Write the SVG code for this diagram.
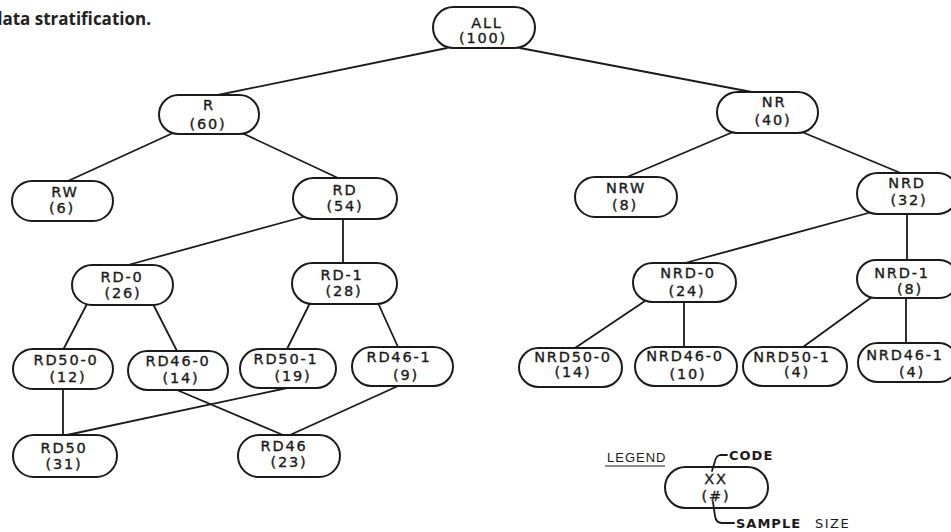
<svg xmlns="http://www.w3.org/2000/svg" width="951" height="532" viewBox="0 0 951 532">
  <style>
    .pill { fill: #fff; stroke: #1a1a1a; stroke-width: 2; }
    .edge { stroke: #1a1a1a; stroke-width: 1.8; fill: none; stroke-linecap: round; }
    .lbl { font-family: "DejaVu Sans", "Liberation Sans", sans-serif; font-size: 14.5px; letter-spacing: 1.8px; fill: #1a1a1a; stroke: #1a1a1a; stroke-width: 0.35; text-anchor: middle; }
    .title { font-family: "Open Sans", "Liberation Sans", sans-serif; font-size: 17px; font-weight: bold; fill: #222; text-anchor: end; }
    .leg { font-family: "DejaVu Sans", "Liberation Sans", sans-serif; font-size: 13px; fill: #1a1a1a; }
  </style>
  <rect width="951" height="532" fill="#fff"/>

  <text class="title" x="151" y="25">data stratification.</text>

  <!-- connectors -->
  <g id="connectors">
    <line class="edge" x1="447" y1="48" x2="218" y2="95"/>
    <line class="edge" x1="520" y1="48" x2="757" y2="93"/>
    <line class="edge" x1="173" y1="133" x2="68" y2="181"/>
    <line class="edge" x1="242" y1="133" x2="338" y2="178"/>
    <line class="edge" x1="733" y1="132" x2="627" y2="177"/>
    <line class="edge" x1="802" y1="132" x2="903" y2="174"/>
    <line class="edge" x1="303" y1="217" x2="128" y2="265"/>
    <line class="edge" x1="343" y1="219" x2="343" y2="263"/>
    <line class="edge" x1="872" y1="212" x2="685" y2="263"/>
    <line class="edge" x1="907" y1="213" x2="907" y2="260"/>
    <line class="edge" x1="87" y1="304" x2="63" y2="350"/>
    <line class="edge" x1="153" y1="304" x2="177" y2="351"/>
    <line class="edge" x1="310" y1="303" x2="287" y2="349"/>
    <line class="edge" x1="378" y1="303" x2="398" y2="347"/>
    <line class="edge" x1="645" y1="301" x2="575" y2="348"/>
    <line class="edge" x1="684" y1="302" x2="684" y2="347"/>
    <line class="edge" x1="872" y1="297" x2="803" y2="347"/>
    <line class="edge" x1="906" y1="298" x2="906" y2="343"/>
    <line class="edge" x1="63" y1="388" x2="63" y2="435"/>
    <line class="edge" x1="287" y1="388" x2="67" y2="435"/>
    <line class="edge" x1="177" y1="390" x2="283" y2="435"/>
    <line class="edge" x1="398" y1="386" x2="290" y2="435"/>
  </g>

  <!-- nodes -->
  <g id="n-all">
    <rect class="pill" x="433" y="7" width="102" height="41" rx="20.5"/>
    <text class="lbl" x="487" y="28">ALL</text>
    <text class="lbl" x="483" y="43">(100)</text>
  </g>
  <g id="n-r">
    <rect class="pill" x="159" y="95" width="100" height="39" rx="19.5"/>
    <text class="lbl" x="209" y="110">R</text>
    <text class="lbl" x="208" y="129">(60)</text>
  </g>
  <g id="n-nr">
    <rect class="pill" x="717" y="92" width="101" height="41" rx="20.5"/>
    <text class="lbl" x="774" y="107">NR</text>
    <text class="lbl" x="773" y="125">(40)</text>
  </g>
  <g id="n-rw">
    <rect class="pill" x="12" y="181" width="101" height="40" rx="20"/>
    <text class="lbl" x="65" y="197">RW</text>
    <text class="lbl" x="62" y="213">(6)</text>
  </g>
  <g id="n-rd">
    <rect class="pill" x="293" y="178" width="104" height="41" rx="20.5"/>
    <text class="lbl" x="345" y="195">RD</text>
    <text class="lbl" x="345" y="211">(54)</text>
  </g>
  <g id="n-nrw">
    <rect class="pill" x="575" y="177" width="102" height="40" rx="20"/>
    <text class="lbl" x="626" y="193">NRW</text>
    <text class="lbl" x="625" y="210">(8)</text>
  </g>
  <g id="n-nrd">
    <rect class="pill" x="857" y="173" width="101" height="41" rx="20.5"/>
    <text class="lbl" x="907" y="188">NRD</text>
    <text class="lbl" x="909" y="205">(32)</text>
  </g>
  <g id="n-rd-0">
    <rect class="pill" x="72" y="265" width="101" height="40" rx="20"/>
    <text class="lbl" x="122" y="282">RD-0</text>
    <text class="lbl" x="123" y="298">(26)</text>
  </g>
  <g id="n-rd-1">
    <rect class="pill" x="292" y="263" width="105" height="41" rx="20.5"/>
    <text class="lbl" x="342" y="280">RD-1</text>
    <text class="lbl" x="344" y="296">(28)</text>
  </g>
  <g id="n-nrd-0">
    <rect class="pill" x="633" y="263" width="103" height="39" rx="19.5"/>
    <text class="lbl" x="688" y="278">NRD-0</text>
    <text class="lbl" x="687" y="296">(24)</text>
  </g>
  <g id="n-nrd-1">
    <rect class="pill" x="857" y="260" width="101" height="38" rx="19"/>
    <text class="lbl" x="902" y="278">NRD-1</text>
    <text class="lbl" x="910" y="294">(8)</text>
  </g>
  <g id="n-rd50-0">
    <rect class="pill" x="13" y="349" width="100" height="40" rx="20"/>
    <text class="lbl" x="66" y="365">RD50-0</text>
    <text class="lbl" x="68" y="382">(12)</text>
  </g>
  <g id="n-rd46-0">
    <rect class="pill" x="128" y="351" width="100" height="39" rx="19.5"/>
    <text class="lbl" x="178" y="366">RD46-0</text>
    <text class="lbl" x="181" y="383">(14)</text>
  </g>
  <g id="n-rd50-1">
    <rect class="pill" x="240" y="349" width="96" height="39" rx="19.5"/>
    <text class="lbl" x="286" y="364">RD50-1</text>
    <text class="lbl" x="293" y="381">(19)</text>
  </g>
  <g id="n-rd46-1">
    <rect class="pill" x="352" y="347" width="101" height="39" rx="19.5"/>
    <text class="lbl" x="399" y="362">RD46-1</text>
    <text class="lbl" x="406" y="380">(9)</text>
  </g>
  <g id="n-nrd50-0">
    <rect class="pill" x="519" y="348" width="103" height="39" rx="19.5"/>
    <text class="lbl" x="573" y="362">NRD50-0</text>
    <text class="lbl" x="573" y="377">(14)</text>
  </g>
  <g id="n-nrd46-0">
    <rect class="pill" x="635" y="347" width="102" height="39" rx="19.5"/>
    <text class="lbl" x="685" y="361">NRD46-0</text>
    <text class="lbl" x="688" y="379">(10)</text>
  </g>
  <g id="n-nrd50-1">
    <rect class="pill" x="743" y="347" width="104" height="39" rx="19.5"/>
    <text class="lbl" x="792" y="362">NRD50-1</text>
    <text class="lbl" x="797" y="377">(4)</text>
  </g>
  <g id="n-nrd46-1">
    <rect class="pill" x="858" y="343" width="100" height="39" rx="19.5"/>
    <text class="lbl" x="905" y="360">NRD46-1</text>
    <text class="lbl" x="912" y="377">(4)</text>
  </g>
  <g id="n-rd50">
    <rect class="pill" x="13" y="435" width="104" height="42" rx="21"/>
    <text class="lbl" x="64" y="453">RD50</text>
    <text class="lbl" x="64" y="469">(31)</text>
  </g>
  <g id="n-rd46">
    <rect class="pill" x="238" y="435" width="102" height="42" rx="21"/>
    <text class="lbl" x="284" y="451">RD46</text>
    <text class="lbl" x="289" y="467">(23)</text>
  </g>

  <!-- legend -->
  <g id="legend">
    <text class="leg" x="607" y="462" style="font-size:13px;letter-spacing:1px;font-family:'Liberation Sans Narrow','Liberation Sans',sans-serif">LEGEND</text>
    <line x1="605" y1="466" x2="665" y2="466" stroke="#1a1a1a" stroke-width="1.2"/>
    <rect class="pill" x="665" y="467" width="103" height="41" rx="20.5"/>
    <text class="lbl" x="716" y="484">XX</text>
    <text class="lbl" x="716" y="501">(#)</text>
    <path class="edge" d="M727,455 H720 Q716,456 715,461 L712,471" stroke-width="1.5"/>
    <path class="edge" d="M713,502 L715,516 Q716,523 722,523 H734" stroke-width="1.5"/>
    <text class="leg" x="729" y="460" font-weight="bold" letter-spacing="1">CODE</text>
    <text class="leg" x="736" y="528" font-weight="bold" letter-spacing="1">SAMPLE</text>
    <text class="leg" x="815" y="528" letter-spacing="1.5">SIZE</text>
  </g>
</svg>
